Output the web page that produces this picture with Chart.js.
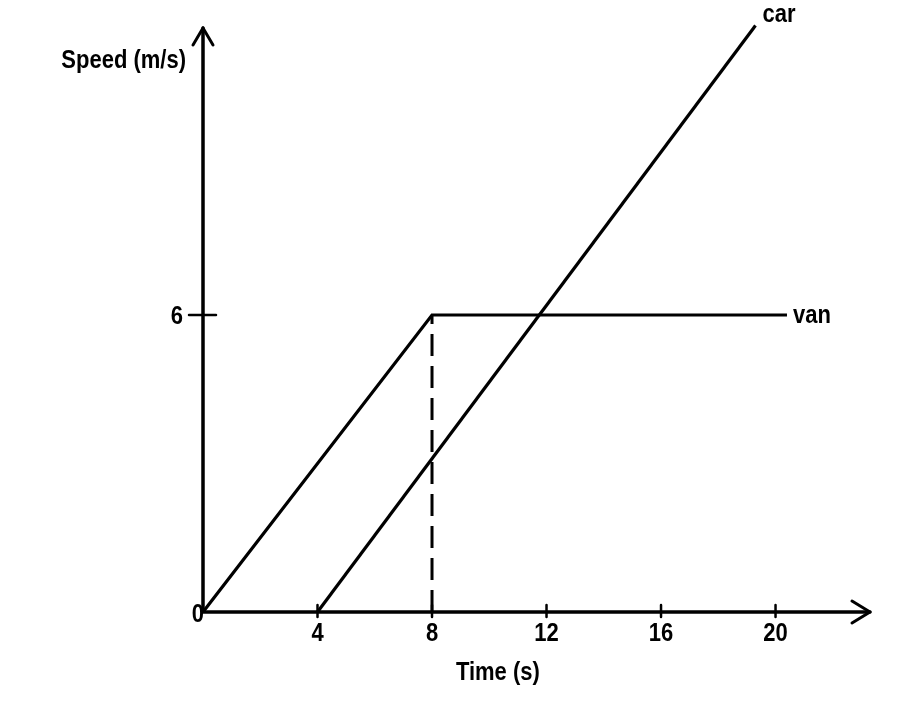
<!DOCTYPE html>
<html>
<head>
<meta charset="utf-8">
<script src="https://cdn.jsdelivr.net/npm/chart.js@4.4.1/dist/chart.umd.min.js"></script>
<style>
  html, body { margin: 0; padding: 0; background: #fff; }
  canvas { display: block; }
</style>
</head>
<body>
<canvas id="speedChart" width="920" height="712"></canvas>
<script>
// values
const xTicks = [4, 8, 12, 16, 20];
const yTicks = [6];
const vanTime = [0, 8, 20.4];
const vanSpeed = [0, 6, 6];
const carTime = [4, 19.3];
const carSpeed = [0, 11.85];
const guideTime = [8, 8];
const guideSpeed = [0, 6];
const xAxisEnd = 23.3;
const yAxisEnd = 11.8;

const ink = "#000";
const FONT = "bold 25px 'Liberation Sans', Arial, sans-serif";
const SQUEEZE = 0.88;

function toPoints(xs, ys) {
  return xs.map((x, i) => ({ x: x, y: ys[i] }));
}

// text drawn a bit narrower, like the condensed face of the figure
function label(ctx, text, x, y, align) {
  ctx.save();
  ctx.font = FONT;
  ctx.fillStyle = ink;
  ctx.textBaseline = "alphabetic";
  const w = ctx.measureText(text).width * SQUEEZE;
  let left = x;
  if (align === "center") left = x - w / 2;
  if (align === "right") left = x - w;
  ctx.translate(left, y);
  ctx.scale(SQUEEZE, 1);
  ctx.textAlign = "left";
  ctx.fillText(text, 0, 0);
  ctx.restore();
}

const axesPlugin = {
  id: "axesPlugin",
  beforeDatasetsDraw(chart) {
    const ctx = chart.ctx;
    const xs = chart.scales.x, ys = chart.scales.y;
    const x0 = xs.getPixelForValue(0), y0 = ys.getPixelForValue(0);
    const xEnd = xs.getPixelForValue(xAxisEnd), yEnd = ys.getPixelForValue(yAxisEnd);

    ctx.save();
    ctx.strokeStyle = ink;
    ctx.lineWidth = 3.5;
    ctx.lineCap = "round";
    ctx.lineJoin = "round";

    // axis lines
    ctx.beginPath();
    ctx.moveTo(x0, y0); ctx.lineTo(xEnd, y0);
    ctx.moveTo(x0, y0); ctx.lineTo(x0, yEnd);
    ctx.stroke();

    // arrow heads
    ctx.lineWidth = 3;
    ctx.beginPath();
    ctx.moveTo(xEnd - 18, y0 - 11); ctx.lineTo(xEnd, y0); ctx.lineTo(xEnd - 18, y0 + 11);
    ctx.moveTo(x0 - 10, yEnd + 17); ctx.lineTo(x0, yEnd); ctx.lineTo(x0 + 10, yEnd + 17);
    ctx.stroke();

    // tick marks
    ctx.lineWidth = 2.5;
    ctx.beginPath();
    xTicks.forEach(t => {
      const px = xs.getPixelForValue(t);
      ctx.moveTo(px, y0 - 7); ctx.lineTo(px, y0 + 5);
    });
    yTicks.forEach(t => {
      const py = ys.getPixelForValue(t);
      ctx.moveTo(x0 - 14, py); ctx.lineTo(x0 + 13, py);
    });
    ctx.stroke();
    ctx.restore();
  },
  afterDatasetsDraw(chart) {
    const ctx = chart.ctx;
    const xs = chart.scales.x, ys = chart.scales.y;
    const x0 = xs.getPixelForValue(0), y0 = ys.getPixelForValue(0);

    xTicks.forEach(t => label(ctx, String(t), xs.getPixelForValue(t), y0 + 29, "center"));
    yTicks.forEach(t => label(ctx, String(t), x0 - 20, ys.getPixelForValue(t) + 9, "right"));
    label(ctx, "0", x0 + 1, y0 + 10, "right");

    label(ctx, "Speed (m/s)", x0 - 17, 68, "right");
    label(ctx, "Time (s)", xs.getPixelForValue(10.3), y0 + 68, "center");

    const vanEnd = vanTime.length - 1;
    label(ctx, "van", xs.getPixelForValue(vanTime[vanEnd]) + 6, ys.getPixelForValue(vanSpeed[vanEnd]) + 8, "left");
    const carEnd = carTime.length - 1;
    label(ctx, "car", xs.getPixelForValue(carTime[carEnd]) + 7, ys.getPixelForValue(carSpeed[carEnd]) - 3, "left");
  }
};

const lineStyle = {
  showLine: true,
  pointRadius: 0,
  pointHoverRadius: 0,
  borderColor: ink,
  borderWidth: 3.2,
  fill: false,
  tension: 0,
  clip: false
};

new Chart(document.getElementById("speedChart").getContext("2d"), {
  type: "scatter",
  data: {
    datasets: [
      { ...lineStyle, label: "van", data: toPoints(vanTime, vanSpeed) },
      { ...lineStyle, label: "car", data: toPoints(carTime, carSpeed) },
      { ...lineStyle, label: "guide", data: toPoints(guideTime, guideSpeed), borderWidth: 3, borderDash: [22, 10], borderCapStyle: "butt" }
    ]
  },
  options: {
    responsive: false,
    animation: false,
    devicePixelRatio: 1,
    layout: { padding: { left: 203, right: 50, top: 18, bottom: 100 } },
    plugins: { legend: { display: false }, tooltip: { enabled: false } },
    scales: {
      x: { type: "linear", min: 0, max: xAxisEnd, display: false },
      y: { type: "linear", min: 0, max: 12, display: false }
    }
  },
  plugins: [axesPlugin]
});
</script>
</body>
</html>
